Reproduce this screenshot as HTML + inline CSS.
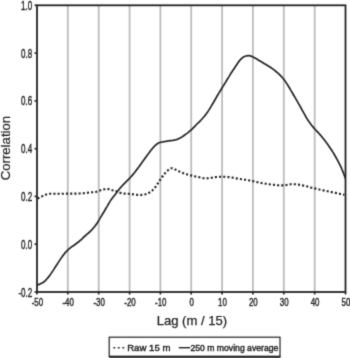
<!DOCTYPE html>
<html><head><meta charset="utf-8"><style>
html,body{margin:0;padding:0;background:#fff;}
body{width:350px;height:358px;overflow:hidden;}
svg{display:block;}
text{font-family:"Liberation Sans",sans-serif;fill:#222;stroke:#222;stroke-width:0.4px;}
</style></head><body>
<svg width="350" height="358" viewBox="0 0 350 358">
<defs><filter id="b" x="0" y="0" width="350" height="358" filterUnits="userSpaceOnUse" color-interpolation-filters="sRGB"><feConvolveMatrix order="3" kernelMatrix="0.0192 0.1001 0.0192 0.1001 0.5228 0.1001 0.0192 0.1001 0.0192" edgeMode="duplicate" preserveAlpha="true"/></filter><clipPath id="pc"><rect x="30" y="0" width="315.6" height="300"/></clipPath></defs>
<g filter="url(#b)">
<rect width="350" height="358" fill="#fff"/>
<g stroke="#bcbcbc" stroke-width="1.8"><line x1="67.8" y1="5.3" x2="67.8" y2="292.0"/><line x1="98.7" y1="5.3" x2="98.7" y2="292.0"/><line x1="129.6" y1="5.3" x2="129.6" y2="292.0"/><line x1="160.4" y1="5.3" x2="160.4" y2="292.0"/><line x1="191.2" y1="5.3" x2="191.2" y2="292.0"/><line x1="222.1" y1="5.3" x2="222.1" y2="292.0"/><line x1="252.9" y1="5.3" x2="252.9" y2="292.0"/><line x1="283.8" y1="5.3" x2="283.8" y2="292.0"/><line x1="314.7" y1="5.3" x2="314.7" y2="292.0"/></g>
<path d="M37.5 198.4 38.5 198.1 39.5 197.6 40.5 197.1 41.5 196.6 42.5 196.1 43.5 195.7 44.5 195.2 45.5 194.8 46.5 194.4 47.5 194.2 48.5 194.0 49.5 193.8 50.5 193.8 51.5 193.8 52.5 193.8 53.5 193.8 54.5 193.8 55.5 193.9 56.5 193.9 57.5 193.9 58.5 193.8 59.5 193.8 60.5 193.8 61.5 193.8 62.5 193.7 63.5 193.7 64.5 193.7 65.5 193.6 66.5 193.6 67.5 193.6 68.5 193.6 69.5 193.6 70.5 193.6 71.5 193.6 72.5 193.6 73.5 193.6 74.5 193.6 75.5 193.6 76.5 193.6 77.5 193.6 78.5 193.5 79.5 193.5 80.5 193.4 81.5 193.3 82.5 193.2 83.5 193.2 84.5 193.1 85.5 193.0 86.5 192.9 87.5 192.8 88.5 192.6 89.5 192.5 90.5 192.4 91.5 192.3 92.5 192.3 93.5 192.2 94.5 192.2 95.5 192.0 96.5 191.7 97.5 191.4 98.5 191.0 99.5 190.7 100.5 190.3 101.5 190.0 102.5 189.7 103.5 189.5 104.5 189.3 105.5 189.1 106.5 189.0 107.5 189.0 108.5 189.1 109.5 189.4 110.5 189.6 111.5 189.9 112.5 190.2 113.5 190.4 114.5 190.7 115.5 191.0 116.5 191.4 117.5 191.8 118.5 192.2 119.5 192.6 120.5 192.9 121.5 193.1 122.5 193.3 123.5 193.4 124.5 193.6 125.5 193.6 126.5 193.7 127.5 193.8 128.5 193.8 129.5 193.9 130.5 194.0 131.5 194.2 132.5 194.3 133.5 194.4 134.5 194.6 135.5 194.7 136.5 194.8 137.5 194.9 138.5 194.9 139.5 195.0 140.5 195.0 141.5 194.9 142.5 194.8 143.5 194.7 144.5 194.5 145.5 194.3 146.5 194.0 147.5 193.5 148.5 193.0 149.5 192.5 150.5 191.9 151.5 191.2 152.5 190.3 153.5 189.3 154.5 188.2 155.5 186.9 156.5 185.6 157.5 184.0 158.5 182.4 159.5 180.8 160.5 179.3 161.5 177.8 162.5 176.5 163.5 175.1 164.5 173.9 165.5 172.7 166.5 171.6 167.5 170.7 168.5 169.8 169.5 169.1 170.5 168.5 171.5 168.2 172.5 168.3 173.5 168.6 174.5 169.1 175.5 169.6 176.5 170.1 177.5 170.6 178.5 171.1 179.5 171.6 180.5 172.1 181.5 172.5 182.5 172.9 183.5 173.3 184.5 173.7 185.5 174.0 186.5 174.3 187.5 174.6 188.5 174.9 189.5 175.1 190.5 175.4 191.5 175.6 192.5 175.9 193.5 176.1 194.5 176.3 195.5 176.5 196.5 176.7 197.5 176.9 198.5 177.1 199.5 177.3 200.5 177.5 201.5 177.8 202.5 178.0 203.5 178.2 204.5 178.3 205.5 178.4 206.5 178.4 207.5 178.3 208.5 178.3 209.5 178.1 210.5 178.0 211.5 177.8 212.5 177.6 213.5 177.4 214.5 177.2 215.5 177.1 216.5 177.0 217.5 176.9 218.5 176.9 219.5 176.8 220.5 176.7 221.5 176.7 222.5 176.8 223.5 176.8 224.5 176.8 225.5 176.8 226.5 176.9 227.5 177.0 228.5 177.1 229.5 177.2 230.5 177.4 231.5 177.5 232.5 177.6 233.5 177.8 234.5 178.0 235.5 178.2 236.5 178.4 237.5 178.6 238.5 178.7 239.5 178.9 240.5 179.0 241.5 179.2 242.5 179.3 243.5 179.4 244.5 179.6 245.5 179.7 246.5 179.9 247.5 180.1 248.5 180.3 249.5 180.5 250.5 180.7 251.5 180.9 252.5 181.1 253.5 181.3 254.5 181.6 255.5 181.8 256.5 182.0 257.5 182.2 258.5 182.5 259.5 182.6 260.5 182.8 261.5 183.0 262.5 183.2 263.5 183.3 264.5 183.5 265.5 183.7 266.5 183.8 267.5 184.0 268.5 184.1 269.5 184.3 270.5 184.5 271.5 184.6 272.5 184.7 273.5 184.8 274.5 184.9 275.5 185.0 276.5 185.1 277.5 185.2 278.5 185.3 279.5 185.4 280.5 185.4 281.5 185.4 282.5 185.4 283.5 185.4 284.5 185.3 285.5 185.2 286.5 185.0 287.5 184.8 288.5 184.6 289.5 184.4 290.5 184.3 291.5 184.3 292.5 184.3 293.5 184.3 294.5 184.3 295.5 184.3 296.5 184.4 297.5 184.5 298.5 184.6 299.5 184.8 300.5 185.0 301.5 185.2 302.5 185.4 303.5 185.6 304.5 185.8 305.5 186.0 306.5 186.3 307.5 186.6 308.5 186.9 309.5 187.2 310.5 187.4 311.5 187.7 312.5 187.9 313.5 188.2 314.5 188.4 315.5 188.6 316.5 188.9 317.5 189.1 318.5 189.3 319.5 189.6 320.5 189.8 321.5 190.0 322.5 190.2 323.5 190.4 324.5 190.6 325.5 190.8 326.5 191.0 327.5 191.2 328.5 191.4 329.5 191.7 330.5 191.9 331.5 192.1 332.5 192.3 333.5 192.5 334.5 192.7 335.5 192.9 336.5 193.1 337.5 193.3 338.5 193.5 339.5 193.7 340.5 194.0 341.5 194.2 342.5 194.4 343.5 194.6 344.5 194.7" fill="none" stroke="#222" stroke-width="2.1" stroke-dasharray="2.1 2.1"/>
<path clip-path="url(#pc)" d="M37.0 285.0 38.0 284.8 39.0 284.4 40.0 284.1 41.0 283.6 42.0 283.1 43.0 282.5 44.0 281.8 45.0 280.9 46.0 279.9 47.0 278.8 48.0 277.6 49.0 276.4 50.0 275.1 51.0 273.6 52.0 272.1 53.0 270.6 54.0 269.1 55.0 267.5 56.0 266.0 57.0 264.5 58.0 262.9 59.0 261.4 60.0 259.9 61.0 258.4 62.0 256.9 63.0 255.5 64.0 254.2 65.0 252.9 66.0 251.8 67.0 250.8 68.0 249.8 69.0 248.9 70.0 248.1 71.0 247.3 72.0 246.6 73.0 246.0 74.0 245.3 75.0 244.5 76.0 243.8 77.0 243.0 78.0 242.3 79.0 241.5 80.0 240.7 81.0 239.8 82.0 238.9 83.0 237.9 84.0 236.9 85.0 236.0 86.0 235.1 87.0 234.2 88.0 233.4 89.0 232.5 90.0 231.6 91.0 230.6 92.0 229.6 93.0 228.5 94.0 227.3 95.0 226.1 96.0 224.7 97.0 223.3 98.0 221.7 99.0 220.1 100.0 218.4 101.0 216.6 102.0 215.0 103.0 213.3 104.0 211.7 105.0 210.0 106.0 208.3 107.0 206.6 108.0 204.8 109.0 203.1 110.0 201.4 111.0 199.9 112.0 198.6 113.0 197.3 114.0 196.0 115.0 194.7 116.0 193.4 117.0 192.0 118.0 190.7 119.0 189.4 120.0 188.2 121.0 187.1 122.0 186.0 123.0 184.9 124.0 183.9 125.0 182.9 126.0 181.9 127.0 180.8 128.0 179.8 129.0 178.8 130.0 177.8 131.0 176.7 132.0 175.6 133.0 174.4 134.0 173.2 135.0 171.9 136.0 170.6 137.0 169.4 138.0 168.0 139.0 166.7 140.0 165.3 141.0 163.9 142.0 162.5 143.0 161.1 144.0 159.7 145.0 158.3 146.0 156.9 147.0 155.5 148.0 154.2 149.0 152.9 150.0 151.6 151.0 150.3 152.0 149.0 153.0 147.9 154.0 146.7 155.0 145.7 156.0 144.8 157.0 144.0 158.0 143.3 159.0 142.8 160.0 142.5 161.0 142.2 162.0 142.0 163.0 141.9 164.0 141.7 165.0 141.5 166.0 141.3 167.0 141.1 168.0 141.0 169.0 140.8 170.0 140.7 171.0 140.6 172.0 140.5 173.0 140.4 174.0 140.2 175.0 140.0 176.0 139.7 177.0 139.4 178.0 139.1 179.0 138.6 180.0 138.1 181.0 137.5 182.0 136.9 183.0 136.2 184.0 135.5 185.0 134.8 186.0 134.1 187.0 133.4 188.0 132.6 189.0 131.7 190.0 130.9 191.0 130.0 192.0 129.1 193.0 128.1 194.0 127.1 195.0 126.1 196.0 125.0 197.0 124.0 198.0 123.0 199.0 122.1 200.0 121.1 201.0 120.0 202.0 119.0 203.0 117.8 204.0 116.7 205.0 115.4 206.0 114.2 207.0 112.8 208.0 111.4 209.0 109.9 210.0 108.3 211.0 106.6 212.0 104.9 213.0 103.2 214.0 101.5 215.0 99.8 216.0 98.0 217.0 96.2 218.0 94.5 219.0 92.9 220.0 91.3 221.0 89.7 222.0 88.0 223.0 86.4 224.0 84.8 225.0 83.1 226.0 81.5 227.0 79.8 228.0 78.2 229.0 76.6 230.0 74.9 231.0 73.3 232.0 71.8 233.0 70.2 234.0 68.7 235.0 67.2 236.0 65.7 237.0 64.2 238.0 62.7 239.0 61.3 240.0 60.1 241.0 59.0 242.0 58.1 243.0 57.3 244.0 56.7 245.0 56.3 246.0 56.0 247.0 55.8 248.0 55.7 249.0 55.7 250.0 55.8 251.0 56.1 252.0 56.5 253.0 57.0 254.0 57.5 255.0 58.0 256.0 58.6 257.0 59.2 258.0 59.8 259.0 60.4 260.0 61.0 261.0 61.6 262.0 62.2 263.0 62.8 264.0 63.4 265.0 64.0 266.0 64.6 267.0 65.2 268.0 65.8 269.0 66.4 270.0 67.0 271.0 67.7 272.0 68.4 273.0 69.1 274.0 69.8 275.0 70.6 276.0 71.5 277.0 72.3 278.0 73.2 279.0 74.1 280.0 75.1 281.0 76.1 282.0 77.2 283.0 78.3 284.0 79.6 285.0 80.9 286.0 82.4 287.0 83.9 288.0 85.5 289.0 87.2 290.0 88.8 291.0 90.6 292.0 92.3 293.0 94.0 294.0 95.7 295.0 97.4 296.0 99.1 297.0 100.9 298.0 102.6 299.0 104.4 300.0 106.2 301.0 108.0 302.0 109.8 303.0 111.6 304.0 113.4 305.0 115.2 306.0 117.0 307.0 118.6 308.0 120.2 309.0 121.7 310.0 123.1 311.0 124.4 312.0 125.7 313.0 126.9 314.0 128.1 315.0 129.2 316.0 130.3 317.0 131.4 318.0 132.4 319.0 133.5 320.0 134.6 321.0 135.7 322.0 136.9 323.0 138.2 324.0 139.4 325.0 140.7 326.0 142.1 327.0 143.4 328.0 144.8 329.0 146.3 330.0 147.7 331.0 149.2 332.0 150.8 333.0 152.4 334.0 154.0 335.0 155.7 336.0 157.5 337.0 159.3 338.0 161.2 339.0 163.1 340.0 165.1 341.0 167.2 342.0 169.5 343.0 171.9 344.0 174.5 345.0 177.2 346.0 179.7 347.0 181.8 348.0 183.4" fill="none" stroke="#222" stroke-width="1.7" stroke-linejoin="round"/>
<g stroke="#222" stroke-width="1.6"><line x1="37.0" y1="292.0" x2="37.0" y2="294.5"/><line x1="67.8" y1="292.0" x2="67.8" y2="294.5"/><line x1="98.7" y1="292.0" x2="98.7" y2="294.5"/><line x1="129.6" y1="292.0" x2="129.6" y2="294.5"/><line x1="160.4" y1="292.0" x2="160.4" y2="294.5"/><line x1="191.2" y1="292.0" x2="191.2" y2="294.5"/><line x1="222.1" y1="292.0" x2="222.1" y2="294.5"/><line x1="252.9" y1="292.0" x2="252.9" y2="294.5"/><line x1="283.8" y1="292.0" x2="283.8" y2="294.5"/><line x1="314.7" y1="292.0" x2="314.7" y2="294.5"/><line x1="345.5" y1="292.0" x2="345.5" y2="294.5"/><line x1="34.5" y1="5.3" x2="37.0" y2="5.3"/><line x1="34.5" y1="53.1" x2="37.0" y2="53.1"/><line x1="34.5" y1="100.9" x2="37.0" y2="100.9"/><line x1="34.5" y1="148.7" x2="37.0" y2="148.7"/><line x1="34.5" y1="196.4" x2="37.0" y2="196.4"/><line x1="34.5" y1="244.2" x2="37.0" y2="244.2"/><line x1="34.5" y1="292.0" x2="37.0" y2="292.0"/></g>
<rect x="37.0" y="5.3" width="308.5" height="286.7" fill="none" stroke="#222" stroke-width="1.8"/>
<g font-size="11" text-anchor="middle"><text x="37.4" y="305.7" transform="translate(37.4 0) scale(0.72 1) translate(-37.4 0)">-50</text><text x="68.2" y="305.7" transform="translate(68.2 0) scale(0.72 1) translate(-68.2 0)">-40</text><text x="99.1" y="305.7" transform="translate(99.1 0) scale(0.72 1) translate(-99.1 0)">-30</text><text x="130.0" y="305.7" transform="translate(130.0 0) scale(0.72 1) translate(-130.0 0)">-20</text><text x="160.8" y="305.7" transform="translate(160.8 0) scale(0.72 1) translate(-160.8 0)">-10</text><text x="191.7" y="305.7" transform="translate(191.7 0) scale(0.72 1) translate(-191.7 0)">0</text><text x="222.5" y="305.7" transform="translate(222.5 0) scale(0.72 1) translate(-222.5 0)">10</text><text x="253.3" y="305.7" transform="translate(253.3 0) scale(0.72 1) translate(-253.3 0)">20</text><text x="284.2" y="305.7" transform="translate(284.2 0) scale(0.72 1) translate(-284.2 0)">30</text><text x="315.1" y="305.7" transform="translate(315.1 0) scale(0.72 1) translate(-315.1 0)">40</text><text x="345.9" y="305.7" transform="translate(345.9 0) scale(0.72 1) translate(-345.9 0)">50</text></g>
<g font-size="13" text-anchor="end"><text x="32.3" y="9.9" transform="translate(32.3 0) scale(0.62 1) translate(-32.3 0)">1.0</text><text x="32.3" y="57.7" transform="translate(32.3 0) scale(0.62 1) translate(-32.3 0)">0.8</text><text x="32.3" y="105.5" transform="translate(32.3 0) scale(0.62 1) translate(-32.3 0)">0.6</text><text x="32.3" y="153.3" transform="translate(32.3 0) scale(0.62 1) translate(-32.3 0)">0.4</text><text x="32.3" y="201.0" transform="translate(32.3 0) scale(0.62 1) translate(-32.3 0)">0.2</text><text x="32.3" y="248.8" transform="translate(32.3 0) scale(0.62 1) translate(-32.3 0)">0.0</text><text x="32.3" y="296.6" transform="translate(32.3 0) scale(0.62 1) translate(-32.3 0)">-0.2</text></g>
<text x="191.9" y="325.2" font-size="13" style="stroke-width:0.25px" text-anchor="middle" textLength="70.5" lengthAdjust="spacingAndGlyphs">Lag (m / 15)</text>
<text transform="translate(10.0 148.1) rotate(-90)" font-size="12.8" style="stroke-width:0.18px" text-anchor="middle" textLength="64.5" lengthAdjust="spacingAndGlyphs">Correlation</text>
<rect x="109.2" y="337.2" width="170.8" height="19.3" fill="none" stroke="#222" stroke-width="1.2"/>
<line x1="109.2" y1="356.8" x2="280.4" y2="356.8" stroke="#222" stroke-width="2"/>
<line x1="113.3" y1="347.7" x2="125" y2="347.7" stroke="#333" stroke-width="1.6" stroke-dasharray="2 2.5"/>
<text x="127.2" y="350.6" font-size="9.3" textLength="43.2" lengthAdjust="spacingAndGlyphs">Raw 15 m</text>
<line x1="178.8" y1="347.7" x2="190.2" y2="347.7" stroke="#222" stroke-width="1.4"/>
<text x="190.4" y="350.6" font-size="9" textLength="88" lengthAdjust="spacingAndGlyphs">250 m moving average</text>
</g>
</svg>
</body></html>
